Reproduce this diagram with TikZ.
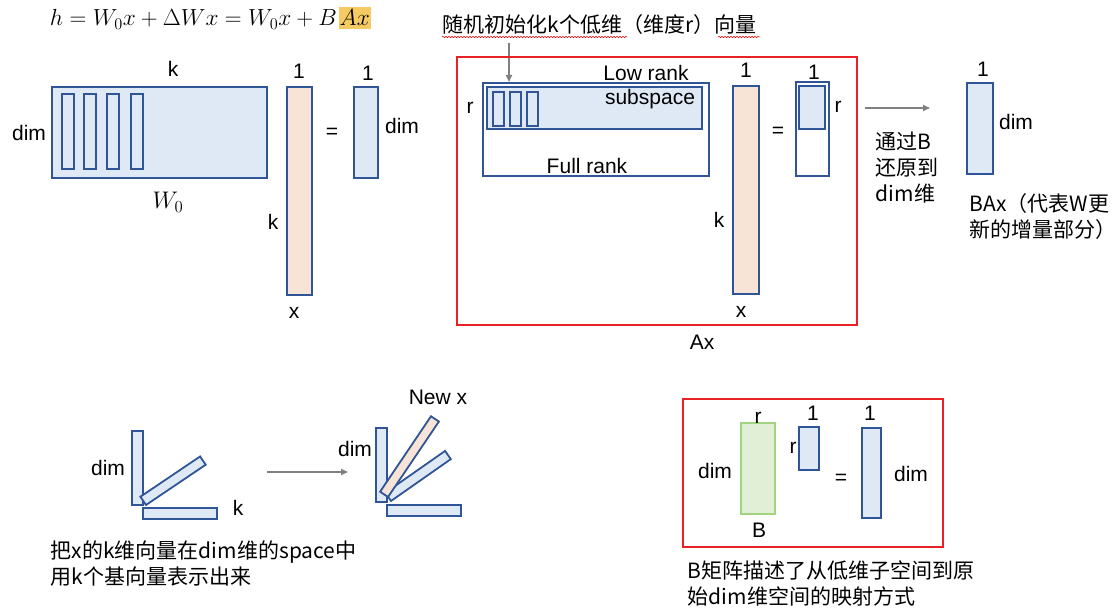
\documentclass[tikz,border=0pt]{standalone}
\usepackage{fix-cm}
\usepackage[no-math]{fontspec}
\setmainfont{Liberation Sans}
\newfontfamily\cjk{Noto Sans CJK SC}
\usetikzlibrary{arrows.meta,decorations.pathmorphing}
\definecolor{matblue}{RGB}{47,85,151}
\definecolor{matfill}{RGB}{222,233,245}
\definecolor{xfill}{RGB}{248,228,214}
\definecolor{bgreen}{RGB}{160,212,128}
\definecolor{bgfill}{RGB}{224,239,214}
\definecolor{boxred}{RGB}{234,32,39}
\definecolor{arrgray}{RGB}{128,128,128}
\definecolor{hlyellow}{RGB}{245,202,98}
\begin{document}
\begin{tikzpicture}[x=1pt,y=-1pt,line width=1.8pt,
  lbl/.style={anchor=center,inner sep=0pt,font=\fontsize{21}{25}\selectfont},
  zh/.style={anchor=west,inner sep=0pt,align=left,font=\fontsize{21}{26}\cjk},
  blubox/.style={draw=matblue,fill=matfill},
  xbox/.style={draw=matblue,fill=xfill},
  redbox/.style={draw=boxred,line width=2.6pt},
  grayarr/.style={draw=arrgray,line width=1.6pt,-{Triangle[length=7pt,width=6pt]}}]
\path[use as bounding box] (0,0) rectangle (1116,615);
% formula
\node[anchor=base west,inner sep=0pt,font=\fontsize{23.3}{28}\selectfont] (frm) at (49,26) {$h=W_0x+\Delta Wx=W_0x+B$};
\node[anchor=base west,inner xsep=1pt,inner ysep=3pt,fill=hlyellow,font=\fontsize{23.3}{28}\selectfont] (hl) at (frm.base east) {$Ax$};
% W0 x = h
\draw[blubox] (52,87) rectangle (267,178);
\foreach \c in {62,84,107,131} \draw[blubox] (\c,94) rectangle ++(12,75);
\node[lbl] (wk) at (173,69) {k};
\node[lbl] (wdim) at (29,133) {dim};
\node[lbl,font=\fontsize{24}{28}\selectfont] (wname) at (168,202) {$W_0$};
\draw[xbox] (287,87) rectangle (312,295);
\node[lbl] (xone) at (299,71) {1};
\node[lbl] (xk) at (273,222) {k};
\node[lbl] (xname) at (294,313) {x};
\node[lbl] (eqa) at (332,133) {=};
\draw[blubox] (354,87) rectangle (378,178);
\node[lbl] (hone) at (368,73) {1};
\node[lbl] (hdim) at (402,126) {dim};
% A x
\node[zh] (initnote) at (442,25) {随机初始化k个低维（维度r）向量};
\draw[red,line width=0.5pt,decorate,decoration={snake,amplitude=0.7pt,segment length=3pt}] (442,37) -- (627,37);
\draw[red,line width=0.5pt,decorate,decoration={snake,amplitude=0.7pt,segment length=3pt}] (718,37) -- (760,37);
\coordinate (initfrom) at (509,43);
\coordinate (initto) at (509,82);
\draw[grayarr] (initfrom) -- (initto);
\draw[redbox] (457,57) rectangle (857,325);
\draw[draw=matblue,fill=white] (483,83) rectangle (709,176);
\draw[blubox] (487,87) rectangle (702,129);
\foreach \c in {493,510,527} \draw[blubox] (\c,92) rectangle ++(11,34);
\node[lbl] (lowrank) at (646,73) {Low rank};
\node[lbl] (subsp) at (650,99) {subspace};
\node[lbl] (fullrank) at (587,166) {Full rank};
\node[lbl] (ar) at (470,108) {r};
\draw[xbox] (733,86) rectangle (759,294);
\node[lbl] (axone) at (746,70) {1};
\node[lbl] (axk) at (719,220) {k};
\node[lbl] (axname) at (741,312) {x};
\node[lbl] (eqb) at (778,132) {=};
\draw[draw=matblue,fill=white] (796,82) rectangle (829,176);
\draw[blubox] (799,86) rectangle (825,129);
\node[lbl] (rone) at (814,72) {1};
\node[lbl] (rr) at (838,107) {r};
\node[lbl] (axlbl) at (702,342) {Ax};
% B A x
\coordinate (backfrom) at (865,108);
\coordinate (backto) at (930,108);
\draw[grayarr] (backfrom) -- (backto);
\node[zh] (backnote) at (875,168) {通过B\\还原到\\dim维};
\draw[blubox] (967,83) rectangle (993,174);
\node[lbl] (baxone) at (983,69) {1};
\node[lbl] (baxdim) at (1016,122) {dim};
\node[zh] (baxnote) at (969,216.5) {BAx（代表W更\\新的增量部分）};
% basis vectors
\draw[blubox] (132,431) rectangle (143,505);
\draw[blubox] (146,505) -- ++(-34:72) -- ++(-124:10) -- ++(-214:72) -- cycle;
\draw[blubox] (143,508) rectangle (217,519);
\node[lbl] (bdim) at (108,468) {dim};
\node[lbl] (bk) at (238,508) {k};
\coordinate (newfrom) at (267,472);
\coordinate (newto) at (348,472);
\draw[grayarr] (newfrom) -- (newto);
\draw[blubox] (376,428) rectangle (387,502);
\draw[blubox] (391,501) -- ++(-35:73) -- ++(-125:10) -- ++(-215:73) -- cycle;
\draw[xbox] (388,497) -- ++(-56:91) -- ++(-146:9.5) -- ++(-236:91) -- cycle;
\draw[blubox] (387,505) rectangle (461,516);
\node[lbl] (newx) at (438,397) {New x};
\node[lbl] (ndim) at (355,449) {dim};
\node[zh] (basisnote) at (50,563.5) {把x的k维向量在dim维的space中\\用k个基向量表示出来};
% B matrix
\draw[redbox] (683,399) rectangle (943,547);
\draw[draw=bgreen,fill=bgfill] (741,423) rectangle (775,514);
\node[lbl] (br) at (758,418) {r};
\node[lbl] (bmdim) at (715,471) {dim};
\node[lbl] (bname) at (759,530) {B};
\draw[blubox] (799,427) rectangle (819,470);
\node[lbl] (sone) at (813,413) {1};
\node[lbl] (sr) at (793,448) {r};
\node[lbl] (eqc) at (841,479) {=};
\draw[blubox] (862,428) rectangle (881,518);
\node[lbl] (tone) at (870,413) {1};
\node[lbl] (tdim) at (911,474) {dim};
\node[zh] (bnote) at (687,583.5) {B矩阵描述了从低维子空间到原\\始dim维空间的映射方式};
\end{tikzpicture}
\end{document}
